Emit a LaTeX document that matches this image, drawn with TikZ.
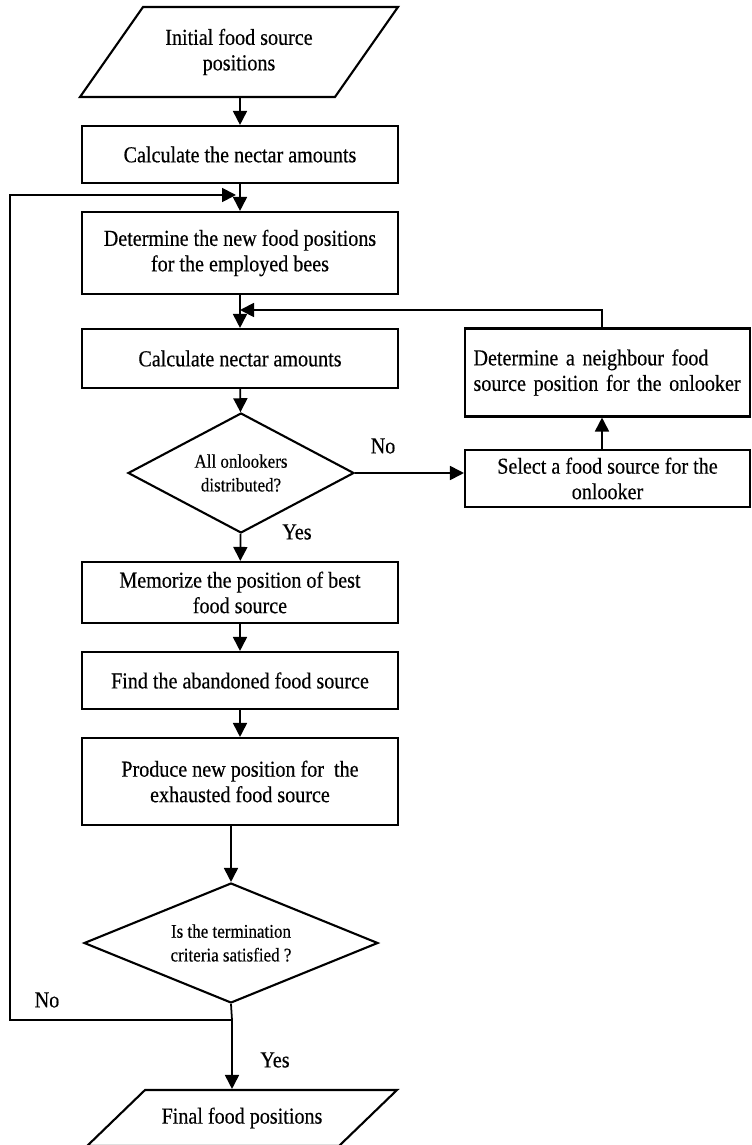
\documentclass[tikz,border=0pt]{standalone}
\usepackage{fontspec}
\setmainfont{Liberation Serif}[FakeStretch=0.88, FakeBold=0.4]
\usepackage{tikz}
\usetikzlibrary{shapes.geometric, arrows.meta, positioning, calc}
\tikzset{
  process_box/.style={rectangle, draw=black, line width=1.2pt, minimum width=6.32cm, align=center, inner sep=2pt, font=\fontsize{13}{14.5}\selectfont},
  side_box/.style={rectangle, draw=black, line width=1.2pt, minimum width=5.7cm, font=\fontsize{13}{14.5}\selectfont},
  decision_box/.style={diamond, draw=black, line width=1.2pt, inner sep=0pt, align=center, font=\fontsize{11}{13.5}\selectfont},
  io_box/.style={trapezium, draw=black, line width=1.2pt, trapezium stretches body, inner sep=0pt, font=\fontsize{13}{14.5}\selectfont},
  arrow/.style={-{Triangle[length=2.8mm, width=2.8mm]}, line width=1pt, black},
  flow_line/.style={-, line width=1pt, black},
  edge_label/.style={font=\fontsize{13}{14.5}\selectfont}
}

\begin{document}
\begin{tikzpicture}[x=0.02cm, y=-0.02cm]

  \useasboundingbox (0,0) rectangle (751,1145);

  % --- Main column ---
  \node[io_box, trapezium left angle=55, trapezium right angle=125] (init) at (239,52)
        {\parbox[c][1.8cm][c]{3.84cm}{\centering Initial food source\\positions}};
  \node[process_box, minimum height=1.14cm] (nectar_a) at (240,154.5)
        {Calculate the nectar amounts};
  \node[process_box, minimum height=1.64cm] (employed) at (240,253)
        {Determine the new food positions\\for the employed bees};
  \node[process_box, minimum height=1.18cm] (nectar_b) at (240,358.5)
        {Calculate nectar amounts};

  % --- Onlooker decision ---
  \node[decision_box, minimum width=4.52cm, minimum height=2.4cm, aspect=1.9] (onlookers) at (241,473)
        {All onlookers\\distributed?};

  \node[process_box, minimum height=1.22cm] (memorize) at (240,592.5)
        {Memorize the position of best\\food source};
  \node[process_box, minimum height=1.14cm] (abandoned) at (240,680.5)
        {Find the abandoned food source};
  \node[process_box, minimum height=1.74cm] (produce) at (240,781.5)
        {Produce new position for~ the\\exhausted food source};

  % --- Termination decision ---
  \node[decision_box, minimum width=5.88cm, minimum height=2.4cm, aspect=2.45] (terminate) at (231,943)
        {Is the termination\\criteria satisfied ?};

  \node[io_box, trapezium left angle=44, trapezium right angle=136] (final) at (242,1118)
        {\parbox[c][1.12cm][c]{3.88cm}{\centering Final food positions}};

  % --- Onlooker side boxes ---
  \node[side_box, minimum height=1.76cm, align=left, text width=5.36cm, inner xsep=0.17cm] (neighbour) at (607.5,372.5)
        {Determine a neighbour food\\source position for the onlooker};
  \node[side_box, minimum height=1.14cm, align=center, inner sep=2pt] (select) at (607.5,478.5)
        {Select a food source for the\\onlooker};

  % --- Helper coordinates ---
  \coordinate (merge_top) at (236,195);
  \coordinate (merge_side) at (602,310);
  \coordinate (no_split) at (232,1020);
  \coordinate (loop_corner) at (10,1020);

  % --- Straight arrows ---
  \draw[arrow] (init.south -| nectar_a.north) -- (nectar_a.north);
  \draw[arrow] (nectar_a) -- (employed);
  \draw[arrow] (employed) -- (nectar_b);
  \draw[arrow] (nectar_b) -- (onlookers);
  \draw[arrow] (onlookers) -- (memorize);
  \draw[arrow] (memorize) -- (abandoned);
  \draw[arrow] (abandoned) -- (produce);
  \draw[arrow] (produce.south -| terminate.north) -- (terminate.north);

  % --- Onlooker loop ---
  \draw[arrow] (onlookers.east) -- (onlookers.east -| select.west);
  \draw[arrow] (select.north -| merge_side) -- (neighbour.south -| merge_side);
  \draw[arrow] (neighbour.north -| merge_side) -- (merge_side) -- (merge_side -| employed.south);

  % --- Termination loop ---
  \draw[flow_line] (terminate.south) -- (no_split);
  \draw[arrow] (no_split) -- (loop_corner) |- (merge_top);
  \draw[arrow] (no_split) -- (no_split |- final.north);

  % --- Labels ---
  \node[edge_label] (no_a) at (383,446) {No};
  \node[edge_label] (yes_a) at (297,532) {Yes};
  \node[edge_label] (no_b) at (47,1000) {No};
  \node[edge_label] (yes_b) at (275,1060) {Yes};

\end{tikzpicture}
\end{document}
